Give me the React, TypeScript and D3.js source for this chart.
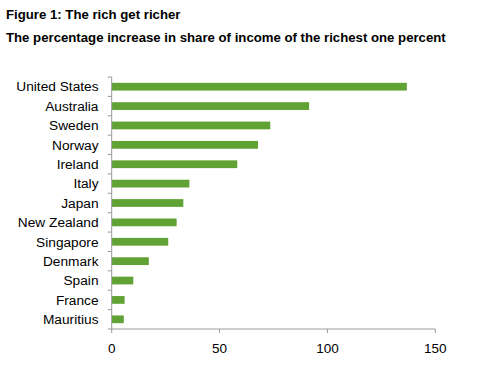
import React, { useEffect, useRef } from 'react';
import * as d3 from 'd3';

// countries, top to bottom
const countries = [
  'United States', 'Australia', 'Sweden', 'Norway', 'Ireland', 'Italy', 'Japan',
  'New Zealand', 'Singapore', 'Denmark', 'Spain', 'France', 'Mauritius',
];
// % increase in share of income of the richest 1%
const increases = [136.8, 91.5, 73.5, 67.8, 58.2, 36, 33.2, 30.1, 26.2, 17.2, 10, 6, 5.6];
const xTicks = [0, 50, 100, 150];

const title = 'Figure 1: The rich get richer';
const subtitle = 'The percentage increase in share of income of the richest one percent';

const W = 480;
const H = 366;
const FONT = '"Liberation Sans", Arial, sans-serif';

const App = () => {
  const svgRef = useRef<SVGSVGElement>(null);

  useEffect(() => {
    const svg = d3.select(svgRef.current);
    svg.selectAll('*').remove();

    const left = 111.7, right = 435.3, top = 77, bottom = 329;

    const x = d3.scaleLinear().domain([0, 150]).range([left, right]);
    const y = d3.scaleBand().domain(countries).range([top, bottom]).paddingInner(0.6).paddingOuter(0.3);
    const band = d3.scaleBand().domain(countries).range([top, bottom]);

    svg.append('text')
      .attr('x', 6).attr('y', 18.5)
      .style('font-family', FONT).style('font-weight', 'bold').style('font-size', '13.2px')
      .text(title);
    svg.append('text')
      .attr('x', 6).attr('y', 41.7)
      .style('font-family', FONT).style('font-weight', 'bold').style('font-size', '13.2px')
      .text(subtitle);

    const data = countries.map((c, i) => ({ c, v: increases[i] }));

    svg.selectAll('rect.bar')
      .data(data)
      .enter()
      .append('rect')
      .attr('class', 'bar')
      .attr('x', x(0))
      .attr('y', d => y(d.c)!)
      .attr('width', d => x(d.v) - x(0))
      .attr('height', y.bandwidth())
      .attr('fill', '#60a234');

    const axisColor = '#9a9a9a';

    // y axis with tick marks between categories
    svg.append('line')
      .attr('x1', left).attr('x2', left).attr('y1', top).attr('y2', bottom)
      .attr('stroke', axisColor);
    const boundaries = countries.map(c => band(c)!).concat([bottom]);
    svg.selectAll('line.ytick')
      .data(boundaries)
      .enter()
      .append('line')
      .attr('class', 'ytick')
      .attr('x1', left - 4).attr('x2', left)
      .attr('y1', d => d).attr('y2', d => d)
      .attr('stroke', axisColor);

    svg.selectAll('text.ylab')
      .data(data)
      .enter()
      .append('text')
      .attr('class', 'ylab')
      .attr('x', 98.5)
      .attr('y', d => band(d.c)! + band.bandwidth() / 2)
      .attr('dy', '0.35em')
      .attr('text-anchor', 'end')
      .style('font-family', FONT).style('font-size', '13.7px')
      .text(d => d.c);

    // x axis
    svg.append('line')
      .attr('x1', left).attr('x2', right).attr('y1', bottom).attr('y2', bottom)
      .attr('stroke', axisColor);
    svg.selectAll('line.xtick')
      .data(xTicks)
      .enter()
      .append('line')
      .attr('class', 'xtick')
      .attr('x1', d => x(d)).attr('x2', d => x(d))
      .attr('y1', bottom).attr('y2', bottom + 4)
      .attr('stroke', axisColor);
    svg.selectAll('text.xlab')
      .data(xTicks)
      .enter()
      .append('text')
      .attr('class', 'xlab')
      .attr('x', d => x(d))
      .attr('y', 348)
      .attr('dy', '0.35em')
      .attr('text-anchor', 'middle')
      .style('font-family', FONT).style('font-size', '13.5px')
      .text(d => d);
  }, []);

  return (
    <svg
      ref={svgRef}
      width={W}
      height={H}
      style={{ position: 'absolute', left: 0, top: 0, background: '#fff' }}
    />
  );
};

export default App;
